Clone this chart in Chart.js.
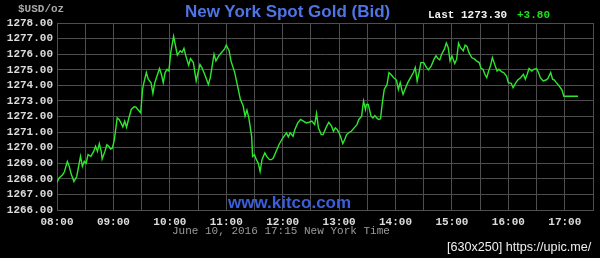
<!DOCTYPE html>
<html>
<head>
<meta charset="utf-8">
<script src="https://cdn.jsdelivr.net/npm/chart.js@4/dist/chart.umd.min.js"></script>
<style>
    body { margin: 0; background: #000; }
    #wrap { position: relative; width: 600px; height: 258px; background: #000; overflow: hidden; }
    #wrap canvas { position: absolute; left: 0; top: 0; }
    .txt { position: absolute; white-space: nowrap; }
    .mono { font-family: "Liberation Mono", "DejaVu Sans Mono", monospace; font-size: 11px; line-height: 11px; font-weight: bold; }
</style>
</head>
<body>
<div id="wrap">
    <canvas id="gold-chart" width="600" height="258"></canvas>
    <div class="txt mono" style="left:18px; top:4px; color:#a8a8a8;">$USD/oz</div>
    <div class="txt" style="left:185px; top:3px; font:bold 17px/17px 'Liberation Sans', Arial, sans-serif; color:#4f74e3;">New York Spot Gold (Bid)</div>
    <div class="txt mono" style="left:428px; top:10px; color:#f2f2f2;">Last 1273.30</div>
    <div class="txt mono" style="left:517px; top:10px; color:#22dd22;">+3.80</div>
    <div class="txt" style="left:228px; top:194px; font:bold 17px/17px 'Liberation Sans', Arial, sans-serif; color:#3b5fdc;">www.kitco.com</div>
    <div class="txt mono" style="left:172px; top:226px; color:#9a9a9a; font-weight:normal;">June 10, 2016 17:15 New York Time</div>
    <div class="txt" style="left:447px; top:240px; font:12.6px/15px 'Liberation Sans', sans-serif; color:#f0f0f0;">[630x250] https://upic.me/</div>
</div>

<script>
// Spot gold bid, New York session
const times = [
    '08:00','08:02','08:06','08:08','08:11','08:13','08:15','08:18','08:21','08:25',
    '08:27','08:29','08:31','08:33','08:36','08:39','08:41','08:43','08:45','08:47',
    '08:48','08:51','08:53','08:55','08:57','08:59','09:01','09:04','09:06','09:08',
    '09:10','09:12','09:14','09:16','09:19','09:22','09:24','09:26','09:29','09:31',
    '09:32','09:35','09:37','09:40','09:42','09:44','09:47','09:49','09:51','09:53',
    '09:55','09:57','09:59','10:01','10:04','10:06','10:08','10:11','10:13','10:15',
    '10:17','10:20','10:22','10:25','10:28','10:32','10:34','10:37','10:41','10:43',
    '10:47','10:49','10:52','10:55','10:58','11:00','11:03','11:05','11:09','11:12',
    '11:15','11:18','11:20','11:22','11:24','11:27','11:28','11:30','11:32','11:34',
    '11:36','11:38','11:41','11:43','11:46','11:48','11:50','11:53','11:56','12:00',
    '12:04','12:06','12:08','12:11','12:13','12:16','12:19','12:22','12:25','12:28',
    '12:31','12:34','12:36','12:38','12:41','12:43','12:46','12:49','12:52','12:54',
    '12:56','12:58','13:00','13:02','13:04','13:06','13:08','13:11','13:13','13:16',
    '13:19','13:21','13:24','13:25','13:26','13:28','13:29','13:31','13:34','13:36',
    '13:38','13:40','13:42','13:44','13:46','13:48','13:51','13:53','13:55','13:58',
    '14:01','14:03','14:05','14:07','14:08','14:10','14:13','14:16','14:19','14:21',
    '14:23','14:25','14:27','14:30','14:33','14:35','14:38','14:41','14:43','14:45',
    '14:47','14:49','14:52','14:54','14:56','14:58','15:00','15:03','15:05','15:07',
    '15:09','15:12','15:14','15:16','15:18','15:21','15:24','15:26','15:29','15:31',
    '15:33','15:35','15:37','15:39','15:41','15:43','15:46','15:48','15:50','15:53',
    '15:55','15:58','16:00','16:03','16:05','16:08','16:10','16:13','16:16','16:18',
    '16:20','16:22','16:25','16:27','16:30','16:32','16:34','16:37','16:40','16:42',
    '16:45','16:47','16:49','16:51','16:54','16:57','16:59','17:14'
];

const prices = [
    1267.76,1268.04,1268.26,1268.47,1269.12,1268.80,1268.32,1267.83,1268.15,1269.44,
    1268.80,1269.12,1269.00,1269.55,1269.44,1269.76,1270.09,1269.76,1270.26,1269.76,
    1269.27,1269.76,1270.19,1270.09,1269.91,1269.98,1270.52,1271.91,1271.81,1271.59,
    1271.33,1271.70,1271.31,1271.81,1272.45,1272.62,1272.60,1272.45,1272.24,1273.74,
    1274.06,1274.82,1274.39,1274.17,1273.48,1274.17,1274.71,1275.08,1274.71,1274.17,
    1274.82,1275.03,1274.92,1276.11,1277.14,1276.54,1275.94,1276.22,1276.11,1276.37,
    1275.89,1275.29,1275.72,1275.46,1274.28,1275.35,1275.14,1274.71,1274.06,1274.49,
    1276.00,1275.57,1275.89,1276.11,1276.32,1276.58,1276.22,1275.57,1274.82,1273.96,
    1273.10,1272.67,1272.02,1272.41,1271.91,1270.73,1269.44,1269.55,1269.23,1269.01,
    1268.47,1269.23,1269.66,1269.44,1269.23,1269.23,1269.33,1269.76,1270.19,1270.62,
    1270.95,1270.69,1270.95,1270.73,1271.16,1271.59,1271.81,1271.70,1271.59,1271.63,
    1271.70,1271.48,1272.19,1271.27,1270.84,1270.84,1271.27,1271.63,1271.38,1271.05,
    1271.27,1271.16,1270.95,1270.62,1270.26,1270.52,1270.84,1270.99,1271.05,1271.27,
    1271.48,1271.81,1272.02,1272.56,1272.99,1272.45,1272.77,1272.77,1272.02,1271.91,
    1272.06,1271.91,1271.81,1271.85,1272.88,1273.74,1274.06,1274.82,1274.71,1274.49,
    1274.34,1273.74,1274.17,1273.63,1273.42,1273.74,1274.17,1274.49,1274.82,1275.14,
    1274.28,1274.82,1275.46,1275.46,1275.14,1274.99,1275.25,1275.68,1275.89,1275.72,
    1275.63,1276.00,1276.32,1276.71,1276.43,1275.57,1275.89,1275.40,1275.68,1276.71,
    1276.43,1276.22,1276.58,1276.49,1276.11,1275.78,1275.68,1275.57,1275.46,1275.08,
    1275.03,1274.71,1274.49,1274.92,1275.25,1275.78,1275.25,1274.92,1275.03,1274.86,
    1274.82,1274.60,1274.17,1274.13,1273.85,1274.17,1274.34,1274.49,1274.71,1274.39,
    1274.71,1275.08,1274.92,1275.03,1275.08,1274.82,1274.49,1274.28,1274.34,1274.43,
    1274.82,1274.39,1274.34,1274.17,1273.96,1273.70,1273.30,1273.30
];

// axis range: 08:00 - 17:30, 1266 - 1278
const startTime = '08:00';
const endTime = '17:30';
const priceMin = 1266;
const priceMax = 1278;

function toMinutes(t) {
    const parts = t.split(':');
    return (parseInt(parts[0], 10) * 60 + parseInt(parts[1], 10)) - 8 * 60;
}

function toLabel(m) {
    const h = 8 + Math.floor(m / 60);
    return (h < 10 ? '0' : '') + h + ':00';
}

const points = times.map((t, i) => ({ x: toMinutes(t), y: prices[i] }));

const tickFont = { family: "'Liberation Mono', 'DejaVu Sans Mono', monospace", size: 11, weight: 'bold' };
const gridColor = '#4e4e4e';

const ctx = document.getElementById('gold-chart').getContext('2d');
window.goldChart = new Chart(ctx, {
    type: 'line',
    data: {
        datasets: [{
            label: 'Bid',
            data: points,
            borderColor: '#2ee82e',
            borderWidth: 1.4,
            pointRadius: 0,
            tension: 0,
            fill: false
        }]
    },
    options: {
        responsive: false,
        animation: false,
        layout: {
            padding: { top: 23, right: 7, left: 0, bottom: 0 }
        },
        plugins: {
            legend: { display: false },
            tooltip: { enabled: false }
        },
        scales: {
            x: {
                type: 'linear',
                min: toMinutes(startTime),
                max: toMinutes(endTime),
                afterFit: function(scale) { scale.height = 48; },
                grid: { color: gridColor, lineWidth: 1, drawTicks: false },
                border: { color: gridColor },
                ticks: {
                    stepSize: 30,
                    autoSkip: false,
                    maxRotation: 0,
                    padding: 6,
                    color: '#dcdcdc',
                    font: tickFont,
                    callback: function(value) {
                        return value % 60 === 0 ? toLabel(value) : '';
                    }
                }
            },
            y: {
                min: priceMin,
                max: priceMax,
                afterFit: function(scale) { scale.width = 57; },
                grid: { color: gridColor, lineWidth: 1, drawTicks: false },
                border: { color: gridColor },
                ticks: {
                    stepSize: 1,
                    autoSkip: false,
                    padding: 4,
                    color: '#dcdcdc',
                    font: tickFont,
                    callback: function(value) {
                        return value.toFixed(2);
                    }
                }
            }
        }
    }
});
</script>
</body>
</html>
